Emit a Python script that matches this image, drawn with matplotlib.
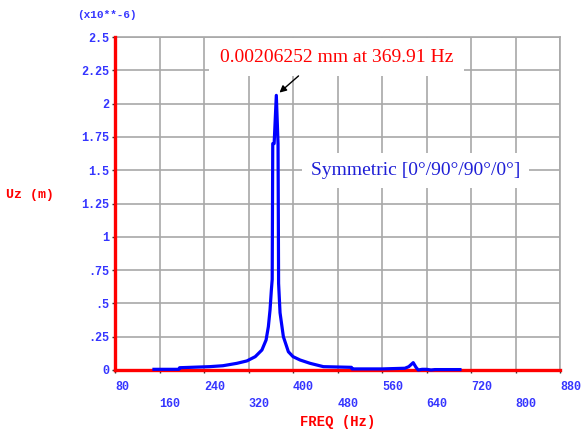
"""Frequency response of Uz for a symmetric [0/90/90/0] laminate."""

import matplotlib.pyplot as plt

# response curve, Uz in units of 1e-6 m
FREQ_HZ = [150, 195, 196, 250, 274, 299, 317, 332, 344, 351.5,
           355.6, 358.6, 361, 362.5, 363.5, 366, 369.91, 373, 374, 376.6,
           382.6, 391.6, 400, 412.6, 430.6, 454.5, 505, 506, 560, 601,
           608, 616, 621, 625, 632, 640, 648, 655, 700]
UZ = [0.005, 0.005, 0.017, 0.025, 0.032, 0.05, 0.068, 0.10, 0.15, 0.225,
      0.325, 0.45, 0.60, 0.68, 1.70, 1.70, 2.06252, 1.70, 0.65, 0.43,
      0.25, 0.137, 0.10, 0.075, 0.05, 0.025, 0.02, 0.008, 0.008, 0.013,
      0.025, 0.055, 0.02, 0.0, 0.005, 0.005, 0.0, 0.003, 0.003]

PEAK_F = 369.91
PEAK_UZ = 2.06252

X_TICKS = [80, 160, 240, 320, 400, 480, 560, 640, 720, 800, 880]
Y_TICKS = [0, 0.25, 0.5, 0.75, 1, 1.25, 1.5, 1.75, 2, 2.25, 2.5]
Y_LABELS = ["0", ".25", ".5", ".75", "1", "1.25", "1.5", "1.75", "2", "2.25", "2.5"]

TICK_BLUE = "#3535ff"
MONO = "Liberation Mono"
SERIF = "Liberation Serif"

fig = plt.figure(figsize=(5.81, 4.34), dpi=100)
ax = fig.add_axes([0.198, 0.1475, 0.766, 0.767])

ax.plot(FREQ_HZ, UZ, color="#0000ff", lw=2.3, zorder=4, clip_on=False)

ax.set_xlim(80, 880)
ax.set_ylim(0, 2.5)
ax.set_xticks(X_TICKS)
ax.set_xticklabels([str(t) if i % 2 == 0 else "\n" + str(t)
                    for i, t in enumerate(X_TICKS)])
ax.set_yticks(Y_TICKS)
ax.set_yticklabels(Y_LABELS)
ax.grid(True, color="#a8a8a8", lw=1.2)
ax.set_axisbelow(True)

for lab in ax.get_xticklabels():
    lab.set_ha("left")
    lab.set_linespacing(1.55)
for lab in ax.get_xticklabels() + ax.get_yticklabels():
    lab.set_fontfamily(MONO)
    lab.set_fontweight("bold")
    lab.set_fontsize(8.5)
    lab.set_color(TICK_BLUE)
ax.tick_params(length=2, width=1, color="#333333")
ax.tick_params(axis="x", pad=6)
ax.tick_params(axis="y", pad=2)

for side in ("left", "bottom"):
    ax.spines[side].set_color("red")
    ax.spines[side].set_linewidth(2.4)
    ax.spines[side].set_zorder(3)
for side in ("top", "right"):
    ax.spines[side].set_color("#a8a8a8")
    ax.spines[side].set_linewidth(1.2)

ax.set_xlabel("FREQ (Hz)", family=MONO, fontweight="bold", fontsize=10,
              color="red")
ax.xaxis.set_label_coords(0.5, -0.135)
ax.set_ylabel("Uz (m)", family=MONO, fontweight="bold", fontsize=9.5,
              color="red", rotation=0, ha="center", va="center")
ax.yaxis.set_label_coords(-0.19, 0.5255)

ax.text(-0.018, 1.066, "(x10**-6)", transform=ax.transAxes, ha="center",
        va="center", family=MONO, fontweight="bold", fontsize=8,
        color=TICK_BLUE)

ax.text(478, 2.35, f"{PEAK_UZ / 1000:.8f} mm at {PEAK_F:.2f} Hz",
        family=SERIF, fontsize=14, color="red", ha="center", va="center",
        zorder=5, bbox=dict(boxstyle="square,pad=0.55", fc="white", ec="none"))
ax.annotate("", xy=(PEAK_F, PEAK_UZ), xytext=(16, 14),
            textcoords="offset points", zorder=6,
            arrowprops=dict(arrowstyle="-|>", color="black", lw=1,
                            shrinkA=0, shrinkB=3, mutation_scale=10))

ax.text(620, 1.5, "Symmetric [0°/90°/90°/0°]", family=SERIF, fontsize=14,
        color="#1f1fd6", ha="center", va="center", zorder=5,
        bbox=dict(boxstyle="square,pad=0.45", fc="white", ec="none"))

fig.savefig("out.png", dpi=100)
